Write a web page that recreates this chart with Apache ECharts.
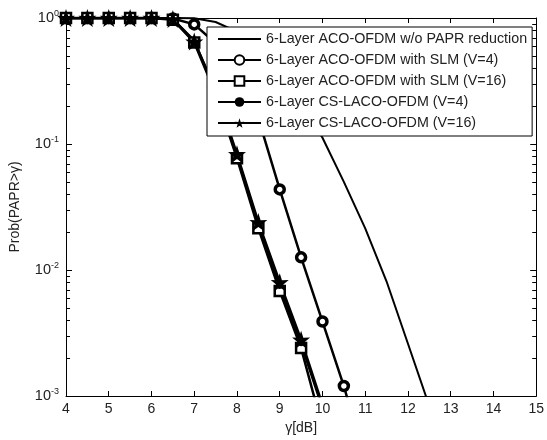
<!DOCTYPE html>
<html>
<head>
<meta charset="utf-8">
<script src="https://cdn.jsdelivr.net/npm/echarts@6/dist/echarts.min.js"></script>
<style>
html, body { margin: 0; padding: 0; background: #fff; }
#main { width: 547px; height: 440px; }
</style>
</head>
<body>
<div id="main"></div>
<script>
// gamma [dB] sampling
var gammaWo = [4, 4.5, 5, 5.5, 6, 6.5, 7, 7.5, 8, 8.5, 9, 9.5, 10, 10.5, 11, 11.5, 12, 12.5, 13];
var gammaSlm4 = [4, 4.5, 5, 5.5, 6, 6.5, 7, 7.5, 8, 8.5, 9, 9.5, 10, 10.5, 11];
var gammaShort = [4, 4.5, 5, 5.5, 6, 6.5, 7, 7.5, 8, 8.5, 9, 9.5, 10];

// CCDF values
var woPapr   = [1, 1, 1, 1, 1, 1, 0.995, 0.93, 0.78, 0.57, 0.38, 0.21, 0.112, 0.05, 0.0214, 0.0081, 0.0026, 0.00083, 0.0002];
var slmV4    = [1, 1, 1, 1, 1, 0.99, 0.89, 0.63, 0.34, 0.16, 0.0436, 0.0126, 0.0039, 0.0012, 0.0003];
var slmV16   = [1, 1, 1, 1, 1, 0.97, 0.64, 0.25, 0.077, 0.0214, 0.0068, 0.0024, 0.00056];
var csLacoV4 = [1, 1, 1, 1, 1, 0.98, 0.66, 0.26, 0.08, 0.023, 0.0074, 0.0026, 0.0008];
var csLacoV16 = [1, 1, 1, 1, 1, 0.98, 0.65, 0.27, 0.083, 0.024, 0.008, 0.0028, 0.00085];

var names = [
    '6-Layer ACO-OFDM w/o PAPR reduction',
    '6-Layer ACO-OFDM with SLM (V=4)',
    '6-Layer ACO-OFDM with SLM (V=16)',
    '6-Layer CS-LACO-OFDM (V=4)',
    '6-Layer CS-LACO-OFDM (V=16)'
];

// minor ticks of the log axis (2..9 x 10^k)
var minorTicks = [];
[0.001, 0.01, 0.1].forEach(function (d) {
    for (var m = 2; m <= 9; m++) minorTicks.push([4, m * d]);
});

function pairs(xs, ys) {
    return ys.map(function (y, i) { return [xs[i], y]; });
}

var starPath = 'path://M50,0 L61.8,35.4 L97.6,34.5 L69.1,56.5 L79.4,90.5 L50,70 L20.6,90.5 L30.9,56.5 L2.4,34.5 L38.2,35.4 Z';
var font = 'Liberation Sans, Arial, sans-serif';

var dom = document.getElementById('main');
var myChart = echarts.init(dom);
var option = {
    backgroundColor: '#fff',
    animation: false,
    grid: { left: 61, right: 7, top: 18, bottom: 43 },
    legend: {
        orient: 'vertical',
        left: 207,
        top: 27,
        data: [
            { name: names[0], itemStyle: { opacity: 0 } },
            names[1], names[2], names[3], names[4]
        ],
        itemWidth: 43,
        itemHeight: 12,
        itemGap: 7,
        padding: [5, 5, 6, 10],
        backgroundColor: '#fff',
        borderColor: '#000',
        borderWidth: 1,
        textStyle: { fontFamily: font, fontSize: 14.3, color: '#222' }
    },
    xAxis: [{
        type: 'value',
        min: 4, max: 15, interval: 1,
        name: 'γ[dB]',
        nameLocation: 'middle',
        nameGap: 25,
        nameTextStyle: { fontFamily: font, fontSize: 14, color: '#222' },
        axisLine: { lineStyle: { color: '#000', width: 1 } },
        axisTick: { inside: true, length: 5, lineStyle: { color: '#000' } },
        axisLabel: { fontFamily: font, fontSize: 14, color: '#222', margin: 6 },
        splitLine: { show: false }
    }, {
        type: 'value',
        position: 'top',
        min: 4, max: 15, interval: 1,
        axisLine: { lineStyle: { color: '#000', width: 1 } },
        axisTick: { inside: true, length: 5, lineStyle: { color: '#000' } },
        axisLabel: { show: false },
        splitLine: { show: false }
    }],
    yAxis: [{
        type: 'log',
        logBase: 10,
        min: 0.001, max: 1,
        name: 'Prob(PAPR>γ)',
        nameLocation: 'middle',
        nameGap: 44,
        nameTextStyle: { fontFamily: font, fontSize: 14, color: '#222' },
        axisLine: { lineStyle: { color: '#000', width: 1 } },
        axisTick: { inside: true, length: 6, lineStyle: { color: '#000' } },
        axisLabel: {
            margin: 7,
            formatter: function (v) {
                return '{b|10}{s|' + Math.round(Math.log10(v)) + '}';
            },
            rich: {
                b: { fontFamily: font, fontSize: 14.5, color: '#222' },
                s: { fontFamily: font, fontSize: 9, color: '#222', padding: [0, 0, 9, 0] }
            }
        },
        splitLine: { show: false }
    }, {
        type: 'log',
        logBase: 10,
        position: 'right',
        min: 0.001, max: 1,
        axisLine: { lineStyle: { color: '#000', width: 1 } },
        axisTick: { inside: true, length: 6, lineStyle: { color: '#000' } },
        axisLabel: { show: false },
        splitLine: { show: false }
    }],
    series: [
        {
            name: names[0],
            type: 'line',
            data: pairs(gammaWo, woPapr),
            showSymbol: false,
            symbol: 'none',
            color: '#000',
            lineStyle: { color: '#000', width: 2 }
        },
        {
            name: names[1],
            type: 'line',
            data: pairs(gammaSlm4, slmV4),
            symbol: 'circle',
            symbolSize: 9,
            color: '#000',
            itemStyle: { color: '#fff', borderColor: '#000', borderWidth: 3.5 },
            lineStyle: { color: '#000', width: 2.5 }
        },
        {
            name: names[2],
            type: 'line',
            data: pairs(gammaShort, slmV16),
            symbol: 'rect',
            symbolSize: 10,
            color: '#000',
            itemStyle: { color: '#fff', borderColor: '#000', borderWidth: 2.5 },
            lineStyle: { color: '#000', width: 2.5 }
        },
        {
            name: names[3],
            type: 'line',
            data: pairs(gammaShort, csLacoV4),
            symbol: 'circle',
            symbolSize: 5,
            color: '#000',
            itemStyle: { color: '#000' },
            lineStyle: { color: '#000', width: 2.5 }
        },
        {
            name: names[4],
            type: 'line',
            data: pairs(gammaShort, csLacoV16),
            symbol: starPath,
            symbolSize: 18,
            color: '#000',
            itemStyle: { color: '#000' },
            lineStyle: { color: '#000', width: 2.5 }
        },
        {
            name: 'minor',
            type: 'custom',
            silent: true,
            data: minorTicks,
            encode: { x: 0, y: 1 },
            renderItem: function (params, api) {
                var p = api.coord([4, api.value(1)]);
                var q = api.coord([15, api.value(1)]);
                var y = Math.round(p[1]) + 0.5;
                return {
                    type: 'group',
                    children: [
                        { type: 'line', shape: { x1: p[0], y1: y, x2: p[0] + 4, y2: y }, style: { stroke: '#000', lineWidth: 1 } },
                        { type: 'line', shape: { x1: q[0] - 4, y1: y, x2: q[0], y2: y }, style: { stroke: '#000', lineWidth: 1 } }
                    ]
                };
            }
        }
    ]
};
if (option && typeof option === "object") {
    myChart.setOption(option, true);
}
</script>
</body>
</html>
